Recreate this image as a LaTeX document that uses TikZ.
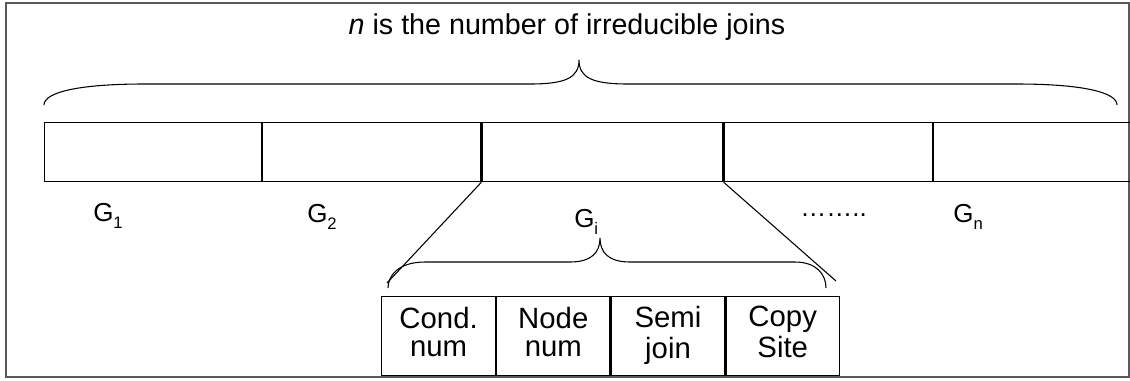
\documentclass[tikz,border=0pt]{standalone}
\usepackage{fontspec}
\setmainfont{Liberation Sans}
\newcommand\mysubs[1]{\raisebox{-5.5pt}{\fontsize{12.5}{13}\selectfont #1}}
\begin{document}
\begin{tikzpicture}[x=0.75pt,y=-0.75pt,
  frame/.style={draw=black!65,line width=1.3pt},
  cell/.style={draw,line width=0.9pt,inner sep=0pt,anchor=north west,minimum height=44.25pt},
  sub/.style={draw,line width=0.9pt,inner sep=0pt,anchor=north west,minimum height=59.25pt,
    align=center,font=\fontsize{22}{20.5}\selectfont},
  brace/.style={draw,line width=0.8pt},
  lbl/.style={anchor=base west,inner sep=0pt,font=\fontsize{19.5}{21}\selectfont},
  conn/.style={draw,line width=0.8pt}]
\useasboundingbox (0,0) rectangle (1130,380);
\draw[frame] (6,3) rectangle (1129,377);
% title
\node[anchor=base,inner sep=0pt,font=\fontsize{21.5}{24}\selectfont] (title) at (567,34)
  {\textit{n} is the number of irreducible joins};
% big row
\node[cell,minimum width=162.75pt] (g1) at (44,122) {};
\node[cell,minimum width=163.5pt] (g2) at (g1.north east) {};
\node[cell,minimum width=180.75pt] (gi) at (g2.north east) {};
\node[cell,minimum width=156pt] (gd) at (gi.north east) {};
\node[cell,minimum width=150.75pt] (gn) at (gd.north east) {};
% big brace
\coordinate (bl) at (44,105);
\coordinate (br) at (1117,105);
\coordinate (bt) at (579,60);
\draw[brace] (bl) .. controls (44,92) and (80,84) .. (144,84) -- (530,84)
  .. controls (565,84) and (579,78) .. (bt)
  .. controls (579,78) and (593,84) .. (628,84) -- (1017,84)
  .. controls (1081,84) and (1117,92) .. (br);
% labels
\node[lbl] (l1) at (93,221) {G\mysubs{1}};
\node[lbl] (l2) at (307,222) {G\mysubs{2}};
\node[lbl] (li) at (574,227) {G\mysubs{i}};
\node[lbl] (ld) at (800,216) {\char"2026\char"2026..};
\node[lbl] (ln) at (953,222) {G\mysubs{n}};
% expansion lines
\coordinate (ea) at (387,283);
\coordinate (eb) at (836,281);
\draw[conn] (gi.south west) -- (ea);
\draw[conn] (gi.south east) -- (eb);
% small brace
\coordinate (sl) at (388,288);
\coordinate (sr) at (826,288);
\coordinate (st) at (600,238);
\draw[brace] (sl) .. controls (388,276) and (398,262) .. (425,262) -- (570,262)
  .. controls (592,262) and (600,252) .. (st)
  .. controls (600,252) and (608,262) .. (630,262) -- (795,262)
  .. controls (816,262) and (826,274) .. (sr);
% small table
\node[sub,minimum width=85.5pt] (c1) at (381,296) {Cond.\strut\\num\strut};
\node[sub,minimum width=84.75pt] (c2) at (c1.north east) {Node\strut\\num\strut};
\node[sub,minimum width=85.5pt] (c3) at (c2.north east) {Semi\strut\\join\strut};
\node[sub,minimum width=84.75pt] (c4) at (c3.north east) {Copy\strut\\Site\strut};
\end{tikzpicture}
\end{document}
